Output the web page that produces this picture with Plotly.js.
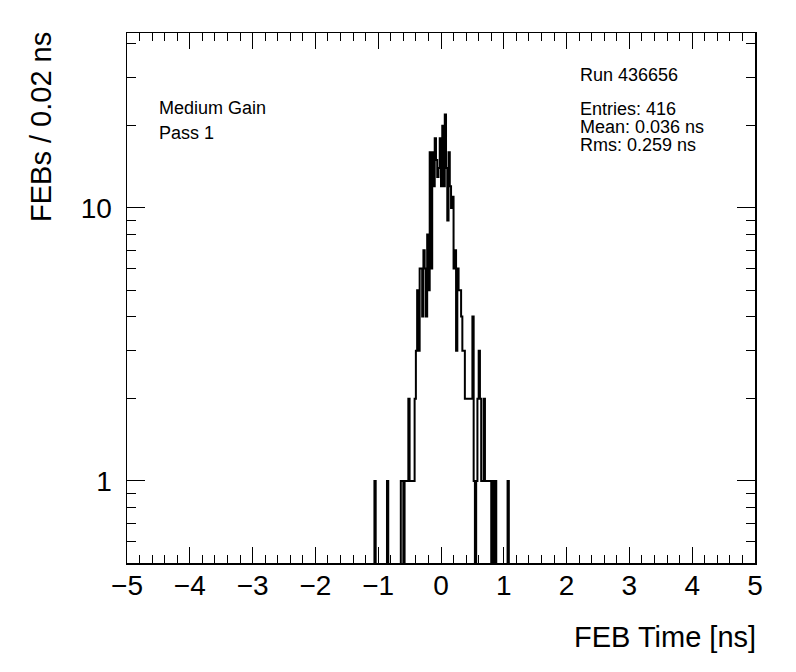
<!DOCTYPE html>
<html>
<head>
<meta charset="utf-8">
<script src="https://cdn.plot.ly/plotly-3.0.1.min.js"></script>
<style>html,body{margin:0;padding:0;background:#fff;}#chart{width:796px;height:672px;}</style>
</head>
<body>
<div id="chart"></div>
<script>
// Histogram definition (ROOT TH1: 500 bins from -5 to 5 ns)
const nBins = 500;
const xMin = -5;
const xMax = 5;
// Non-empty bins: lower edge of each bin [ns] and its count
const binLow = [-1.06, -0.86, -0.64, -0.62, -0.58, -0.56, -0.54,
  -0.52, -0.50, -0.48, -0.46, -0.44, -0.42,
  -0.40, -0.38, -0.36, -0.34, -0.32, -0.30, -0.28, -0.26, -0.24, -0.22, -0.20,
  -0.18, -0.16, -0.14, -0.12, -0.10, -0.08, -0.06, -0.04, -0.02,
  0.00, 0.02, 0.04, 0.06, 0.08, 0.10, 0.12, 0.14, 0.16, 0.18,
  0.20, 0.22, 0.24, 0.26, 0.28, 0.30, 0.32, 0.34, 0.36,
  0.38, 0.40, 0.42, 0.44, 0.46, 0.48, 0.50, 0.52, 0.56, 0.58, 0.60, 0.62, 0.64,
  0.66, 0.68, 0.70, 0.72, 0.74, 0.76, 0.78, 0.82, 0.86, 1.06];
const binCount = [1, 1, 1, 1, 1, 1, 1,
  2, 1, 1, 1, 1, 2,
  3, 5, 3, 6, 6, 4, 7, 6, 4, 8, 5,
  16, 6, 16, 12, 18, 15, 13, 14, 18,
  12, 20, 12, 22, 14, 9, 16, 12, 10, 11,
  6, 7, 3, 6, 5, 5, 4, 3, 3,
  2, 2, 2, 2, 2, 2, 4, 1, 1, 2, 3, 2, 1,
  1, 2, 1, 1, 1, 1, 1, 1, 1, 1];

// Text content
const runLabel = "Run 436656";
const statLines = ["Entries: 416", "Mean: 0.036 ns", "Rms: 0.259 ns"];
const infoLines = ["Medium Gain", "Pass 1"];
const xTitle = "FEB Time [ns]";
const yTitle = "FEBs / 0.02 ns";
const xTickVals = [-5, -4, -3, -2, -1, 0, 1, 2, 3, 4, 5];
const yTickVals = [1, 10];
const yTickText = ["1", "10"];
const yMinorVals = [0.6, 0.7, 0.8, 0.9, 2, 3, 4, 5, 6, 7, 8, 9, 20, 30, 40];

// Build full bin content and the step outline
const width = (xMax - xMin) / nBins;
const content = new Array(nBins).fill(0);
binLow.forEach((lo, k) => {
  const idx = Math.round((lo - xMin) / width);
  content[idx] += binCount[k];
});
const xs = [], ys = [];
const FLOOR = 1e-3; // empty bins drop below the frame on a log axis
for (let i = 0; i < nBins; i++) {
  xs.push(xMin + i * width);
  ys.push(content[i] > 0 ? content[i] : FLOOR);
}
xs.push(xMax); ys.push(ys[ys.length - 1]);

const FONT = "Liberation Sans, Arial, Helvetica, sans-serif";
const L = 127, R = 755, T = 33, B = 563;
const W = 796, H = 672;
const px2x = p => (p - L) / (R - L);
const px2y = p => (B - p) / (B - T);

const annotations = [];
infoLines.forEach((t, k) => annotations.push({
  text: t, xref: "paper", yref: "paper", x: px2x(158), y: px2y([108, 133][k]),
  xanchor: "left", yanchor: "middle", showarrow: false, borderpad: 0,
  font: {family: FONT, size: 18, color: "#000"}
}));
annotations.push({
  text: runLabel, xref: "paper", yref: "paper", x: px2x(579), y: px2y(75),
  xanchor: "left", yanchor: "middle", showarrow: false, borderpad: 0,
  font: {family: FONT, size: 18, color: "#000"}
});
statLines.forEach((t, k) => annotations.push({
  text: t, xref: "paper", yref: "paper", x: px2x(579), y: px2y([109, 127, 145][k]),
  xanchor: "left", yanchor: "middle", showarrow: false, borderpad: 0,
  font: {family: FONT, size: 18, color: "#000"}
}));
annotations.push({
  text: xTitle, xref: "paper", yref: "paper", x: px2x(757), y: px2y(637),
  xanchor: "right", yanchor: "middle", showarrow: false, borderpad: 0,
  font: {family: FONT, size: 29, color: "#000"}
});
annotations.push({
  text: yTitle, xref: "paper", yref: "paper", x: px2x(41), y: px2y(31),
  xanchor: "center", yanchor: "top", textangle: -90, showarrow: false, borderpad: 0,
  font: {family: FONT, size: 29, color: "#000"}
});

const trace = {
  x: xs, y: ys, type: "scatter", mode: "lines",
  line: {shape: "hv", color: "#000", width: 2},
  hoverinfo: "skip"
};

const layout = {
  width: W, height: H,
  margin: {l: L, r: W - R, t: T, b: H - B, pad: 0},
  paper_bgcolor: "#fff", plot_bgcolor: "#fff",
  showlegend: false,
  font: {family: FONT, color: "#000"},
  xaxis: {
    range: [xMin, xMax], tickmode: "array", tickvals: xTickVals,
    ticks: "inside", ticklen: 16, tickwidth: 1, tickcolor: "#000",
    minor: {dtick: 0.2, tick0: 0, ticks: "inside", ticklen: 8, tickwidth: 1, tickcolor: "#000", showgrid: false},
    showline: true, linecolor: "#000", linewidth: 1.5, mirror: "ticks",
    showgrid: false, zeroline: false,
    tickfont: {family: FONT, size: 28, color: "#000"},
    ticklabelstandoff: -3
  },
  yaxis: {
    type: "log", range: [Math.log10(0.5006), 1.641],
    tickmode: "array", tickvals: yTickVals, ticktext: yTickText,
    ticks: "inside", ticklen: 18, tickwidth: 1, tickcolor: "#000",
    minor: {tickmode: "array", tickvals: yMinorVals, ticks: "inside", ticklen: 9, tickwidth: 1, tickcolor: "#000", showgrid: false},
    showline: true, linecolor: "#000", linewidth: 1.5, mirror: "ticks",
    showgrid: false, zeroline: false,
    tickfont: {family: FONT, size: 28, color: "#000"},
    ticklabelstandoff: 8
  },
  annotations: annotations
};

Plotly.newPlot("chart", [trace], layout, {staticPlot: true, displayModeBar: false});
</script>
</body>
</html>
